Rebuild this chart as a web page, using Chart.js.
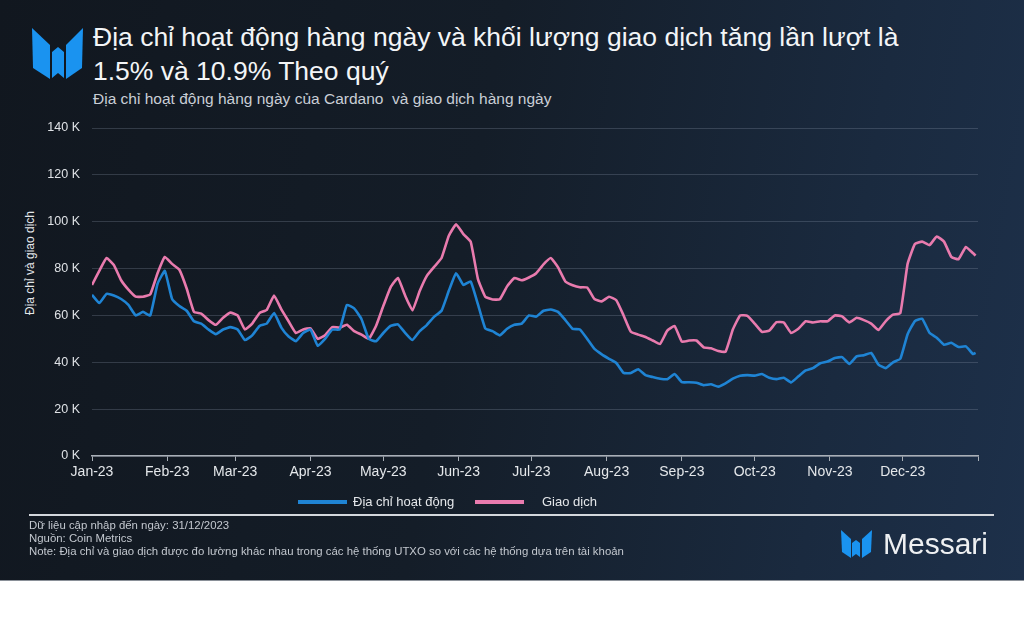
<!DOCTYPE html>
<html>
<head>
<meta charset="utf-8">
<script src="https://cdn.jsdelivr.net/npm/chart.js@4.4.1/dist/chart.umd.min.js"></script>
<style>
  body { margin: 0; width: 1024px; height: 628px; background: #fff; font-family: "Liberation Sans", Arial, sans-serif; overflow: hidden; }
  #panel { position: absolute; left: 0; top: 0; width: 1024px; height: 580px;
    background: linear-gradient(100deg, #11171f 0%, #141d28 45%, #1a2a3f 80%, #1d304a 100%);
    border-bottom: 1px solid #8a9098; }
  #wrap { position: absolute; left: 0; top: 0; width: 1024px; height: 580px; }
  .title { position: absolute; left: 93px; top: 20px; color: #f3f5f7; font-size: 26.5px; line-height: 34px; white-space: nowrap; }
  .subtitle { position: absolute; left: 93px; top: 90px; color: #c9ced6; font-size: 15.5px; white-space: nowrap; }
  .ytitle { position: absolute; left: 30px; top: 263px; color: #e4e7ea; font-size: 12px; white-space: nowrap;
    transform: translate(-50%, -50%) rotate(-90deg); }
  .legend { position: absolute; top: 494px; left: 0; height: 16px; color: #e4e7ea; font-size: 13px; }
  .legend span.sw { position: absolute; top: 6px; height: 4px; }
  .legend span.tx { position: absolute; top: 0; white-space: nowrap; }
  .sep { position: absolute; left: 29px; top: 514px; width: 965px; height: 2px; background: #d3d7dc; }
  .foot { position: absolute; left: 29px; top: 519px; color: #c3c8cf; font-size: 11.4px; line-height: 12.8px; white-space: nowrap; }
  .brand { position: absolute; left: 883px; top: 526px; color: #eef0f2; font-size: 30px; line-height: 36px; }
</style>
</head>
<body>
<div id="panel"></div>

<svg style="position:absolute;left:0;top:0" width="100" height="90">
  <g fill="#1a93f0">
    <polygon points="32,28 50,45 50,79 33,68"/>
    <polygon points="52,52 58,47 64,52 64,78 58,73 52,78"/>
    <polygon points="83,28 66,45 66,79 82,68"/>
  </g>
</svg>
<div class="title">Địa chỉ hoạt động hàng ngày và khối lượng giao dịch tăng lần lượt là<br>1.5% và 10.9% Theo quý</div>
<div class="subtitle">Địa chỉ hoạt động hàng ngày của Cardano&nbsp; và giao dịch hàng ngày</div>
<div class="ytitle">Địa chỉ và giao dịch</div>

<div id="wrap"><canvas id="chart"></canvas></div>

<div class="legend">
  <span class="sw" style="left:298px;width:49px;background:#1f84d4"></span>
  <span class="tx" style="left:353px">Địa chỉ hoạt động</span>
  <span class="sw" style="left:475px;width:49px;background:#e97bae"></span>
  <span class="tx" style="left:542px">Giao dịch</span>
</div>

<div class="sep"></div>
<div class="foot">Dữ liệu cập nhập đến ngày: 31/12/2023<br>Nguồn: Coin Metrics<br>Note: Địa chỉ và giao dịch được đo lường khác nhau trong các hệ thống UTXO so với các hệ thống dựa trên tài khoản</div>

<svg style="position:absolute;left:838px;top:526px" width="40" height="36">
  <g fill="#1a93f0">
    <polygon points="3,4 13,13 13,32 4,26"/>
    <polygon points="14,17 18,14 22,17 22,31 18,28 14,31"/>
    <polygon points="34,4 24,13 24,32 33,26"/>
  </g>
</svg>
<div class="brand">Messari</div>

<script>
// values in thousands, one sample every 3 days from 1 Jan 2023 (last one is 31 Dec)
const addresses = [
  68.8, 65.3, 69.2, 68.5, 67, 64.5, 60, 61.5, 60, 73.5, 79, 67, 64, 62, 57.5, 56.5, 54, 52, 54, 55, 54, 49.5, 51.5, 55.5, 56.5,
  61, 54.8, 51, 49, 52.5, 54, 47, 50, 54, 54, 64.5, 63, 58.5, 50, 49, 52.5, 55.5, 56.2, 52.6, 49.5, 53.3, 56, 59.5, 62, 70.5,
  78, 73, 74.5, 64.7, 54.5, 53.3, 51.5, 54.3, 56, 56.5, 60, 59.5, 62, 62.5, 61.5, 58, 54.3, 54, 50, 45.7, 43.4, 41.5, 39.7, 35.5,
  35.4, 37, 34.5, 33.7, 33, 32.8, 35, 31.5, 31.5, 31.3, 30.2, 30.6, 29.6, 31, 33, 34.3, 34.5, 34.3, 35, 33.4, 32.8, 33.4, 31.4, 34, 36.5,
  37.5, 39.6, 40.3, 41.8, 42.2, 39.3, 42.5, 43, 44, 39, 37.5, 40, 41.5, 52, 57.6, 58.6, 52.6, 50.5, 47.5, 48.3, 46.5, 46.8, 43.5, 44
];
const transactions = [
  73, 79, 84.5, 81.5, 75, 71, 68, 68, 69, 78, 85, 82, 79.5, 71.5, 61.5, 60.8, 58, 56, 59, 61.2, 60, 54, 56.5, 61, 62.4,
  68.5, 62.6, 57.5, 52.5, 54, 54.5, 50, 51.5, 55, 54.8, 56, 53.3, 51.8, 50, 55.5, 64, 72, 76, 68.5, 62.2, 70.4, 77, 80.8, 84.5, 94,
  98.9, 94.7, 91.5, 75.5, 68, 66.8, 66.9, 72.4, 76, 75, 76.2, 78, 81.8, 84.5, 80.5, 74.5, 72.9, 72, 71.9, 67, 66, 68, 66.5, 60,
  53, 51.8, 50.8, 49.3, 47.8, 53.5, 55.5, 48.8, 49.3, 49.3, 46.4, 46, 44.8, 44.5, 54, 60, 59.8, 56.5, 53, 53.5, 57.1, 57, 52.5, 54.3, 57.5,
  57, 57.5, 57.5, 60, 59.6, 57, 59, 58, 56.5, 53.8, 57.6, 60.3, 61, 82, 90.5, 91.5, 90, 93.7, 91.5, 85, 84, 89.2, 86.5, 85.5
];
const monthLabels = ['Jan-23', 'Feb-23', 'Mar-23', 'Apr-23', 'May-23', 'Jun-23',
                     'Jul-23', 'Aug-23', 'Sep-23', 'Oct-23', 'Nov-23', 'Dec-23'];
const monthStarts = [0, 31, 59, 90, 120, 151, 181, 212, 243, 273, 304, 334];
const yTicks = [0, 20, 40, 60, 80, 100, 120, 140];

const days = addresses.map((v, i) => Math.min(i * 3, 364));
const toPoints = arr => arr.map((v, i) => ({ x: days[i], y: v }));

Chart.defaults.font.family = '"Liberation Sans", Arial, sans-serif';

new Chart(document.getElementById('chart'), {
  type: 'line',
  data: {
    datasets: [{
      label: 'Địa chỉ hoạt động',
      data: toPoints(addresses),
      borderColor: '#1f84d4',
      borderWidth: 2.6,
      pointRadius: 0,
      tension: 0.12
    }, {
      label: 'Giao dịch',
      data: toPoints(transactions),
      borderColor: '#e97bae',
      borderWidth: 2.6,
      pointRadius: 0,
      tension: 0.12
    }]
  },
  options: {
    responsive: true,
    maintainAspectRatio: false,
    animation: false,
    layout: { padding: { left: 20, right: 46, top: 128, bottom: 84 } },
    plugins: { legend: { display: false }, tooltip: { enabled: false } },
    scales: {
      x: {
        type: 'linear',
        min: 0,
        max: 365,
        afterBuildTicks: scale => {
          scale.ticks = monthStarts.concat([365]).map(v => ({ value: v }));
        },
        afterFit: scale => { scale.height = 40; },
        ticks: {
          autoSkip: false,
          maxRotation: 0,
          color: '#e4e7ea',
          font: { size: 14 },
          padding: 3,
          callback: (v, i) => monthLabels[i] || ''
        },
        grid: { drawOnChartArea: false, drawTicks: true, tickLength: 5, color: '#a9afb7' },
        border: { display: true, color: '#a9afb7', width: 1.5 }
      },
      y: {
        min: 0,
        max: 140,
        afterBuildTicks: scale => {
          scale.ticks = yTicks.map(v => ({ value: v }));
        },
        afterFit: scale => { scale.width = 72; },
        ticks: {
          color: '#dfe2e6',
          font: { size: 12.5 },
          padding: 12,
          callback: v => v + ' K'
        },
        grid: { color: 'rgba(150,162,185,0.25)', drawTicks: false, lineWidth: 1 },
        border: { display: false }
      }
    }
  }
});
</script>
</body>
</html>
